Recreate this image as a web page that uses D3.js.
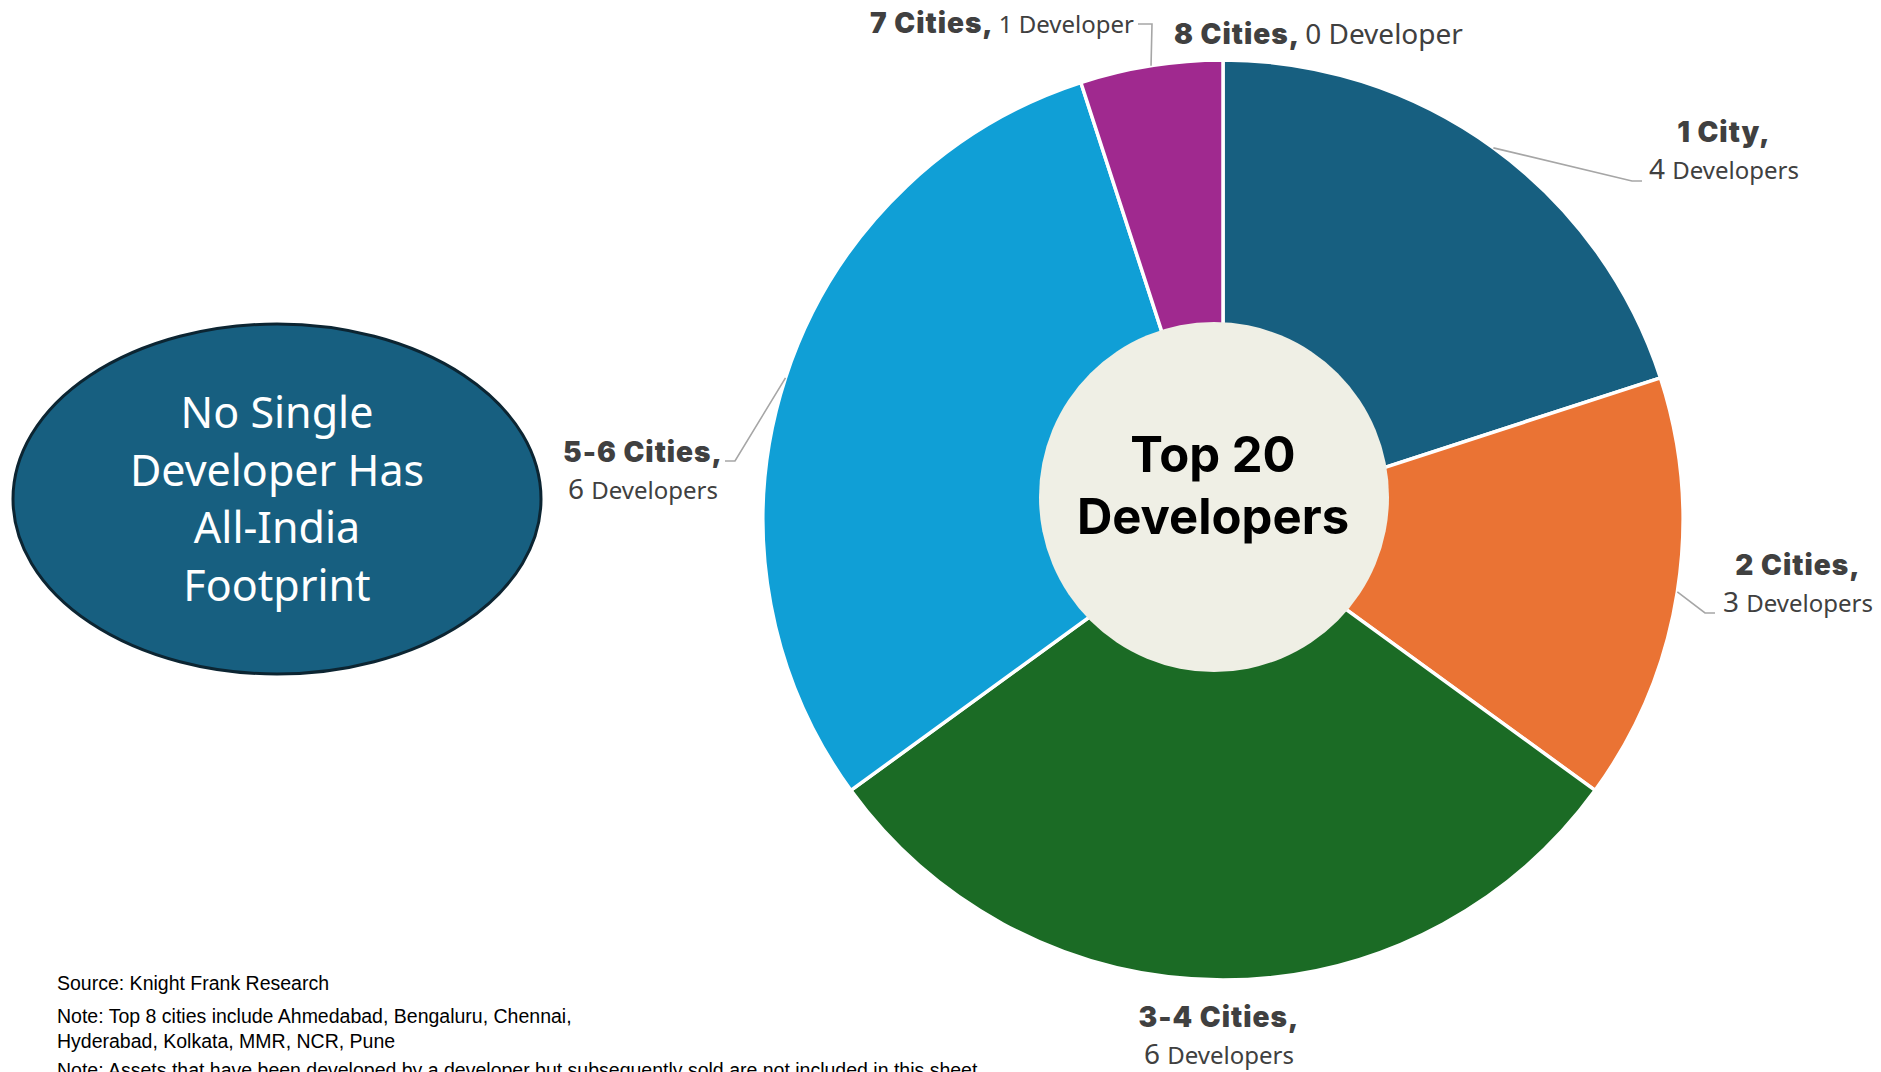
<!DOCTYPE html>
<html>
<head>
<meta charset="utf-8">
<script src="https://cdn.jsdelivr.net/npm/d3@7"></script>
<style>
  html, body { margin: 0; padding: 0; background: #ffffff; }
  svg { display: block; }
</style>
</head>
<body>
<svg id="chart" width="1881" height="1072"></svg>
<script>
// Footprint of the top 20 developers: how many of the top 8 cities each one is present in
const categories = ["1 City,", "2 Cities,", "3-4 Cities,", "5-6 Cities,", "7 Cities,", "8 Cities,"];
const developers = [4, 3, 6, 6, 1, 0];
const unitLabels = ["Developers", "Developers", "Developers", "Developers", "Developer", "Developer"];
const sliceColors = ["#175f80", "#ea7334", "#1b6b25", "#109fd6", "#a0298f", "#6b6b6b"];

const centerTitle = ["Top 20", "Developers"];
const calloutLines = ["No Single", "Developer Has", "All-India", "Footprint"];
const footnotes = [
  "Source: Knight Frank Research",
  "Note: Top 8 cities include Ahmedabad, Bengaluru, Chennai,",
  "Hyderabad, Kolkata, MMR, NCR, Pune",
  "Note: Assets that have been developed by a developer but subsequently sold are not included in this sheet"
];

const svg = d3.select("#chart");

// ---- pie ----
const cx = 1223, cy = 520, R = 460;
const pie = d3.pie().sort(null).value(d => d.v).startAngle(0).endAngle(2 * Math.PI);
const rows = categories.map((c, i) => ({ c, v: developers[i], u: unitLabels[i], col: sliceColors[i], i }));
const arcs = pie(rows);
const arc = d3.arc().innerRadius(0).outerRadius(R);

const g = svg.append("g").attr("transform", `translate(${cx},${cy})`);
g.selectAll("path.slice")
  .data(arcs.filter(a => a.data.v > 0))
  .join("path")
  .attr("class", "slice")
  .attr("d", arc)
  .attr("fill", d => d.data.col)
  .attr("stroke", "#ffffff")
  .attr("stroke-width", 3.5)
  .attr("stroke-linejoin", "round");

// centre disc, slightly offset up-left from the pie centre
svg.append("circle")
  .attr("cx", 1214).attr("cy", 497).attr("r", 175)
  .attr("fill", "#efefe5");

svg.append("text")
  .attr("x", 1213).attr("y", 472)
  .attr("text-anchor", "middle")
  .attr("font-family", "Inter, 'Noto Sans', sans-serif")
  .attr("font-weight", 700)
  .attr("font-size", 49)
  .attr("fill", "#000000")
  .selectAll("tspan")
  .data(centerTitle)
  .join("tspan")
  .attr("x", 1213)
  .attr("dy", (d, i) => i === 0 ? 0 : 62)
  .text(d => d);

// ---- callouts: leader elbow and label placement per slice ----
const layout = [
  { elbow: [1632, 181], end: [1642, 181], x: 1724, y: 142, anchor: "middle", twoLine: true },
  { elbow: [1705, 613], end: [1715, 613], x: 1798, y: 575, anchor: "middle", twoLine: true },
  { elbow: null, end: null, x: 1219, y: 1027, anchor: "middle", twoLine: true },
  { elbow: [735, 461], end: [725, 461], x: 643, y: 462, anchor: "middle", twoLine: true },
  { elbow: [1152, 24], end: [1138, 24], x: 1134, y: 33, anchor: "end", twoLine: false },
  { elbow: null, end: null, x: 1174, y: 44, anchor: "start", twoLine: false }
];

const boldFont = "Inter, Roboto, sans-serif";
const regFont = "'Noto Sans', 'Open Sans', sans-serif";
const labelCol = "#404040";

arcs.forEach((a, i) => {
  const L = layout[i];
  const mid = (a.startAngle + a.endAngle) / 2;
  if (L.elbow) {
    const sx = cx + R * Math.sin(mid), sy = cy - R * Math.cos(mid);
    svg.append("path")
      .attr("d", d3.line()([[sx, sy], L.elbow, L.end]))
      .attr("fill", "none")
      .attr("stroke", "#a6a6a6")
      .attr("stroke-width", 1.6);
  }
  const d = a.data;
  if (L.twoLine) {
    svg.append("text")
      .attr("x", L.x).attr("y", L.y)
      .attr("text-anchor", L.anchor)
      .attr("font-family", boldFont).attr("font-weight", 900)
      .attr("font-size", 28).attr("letter-spacing", 1)
      .attr("fill", labelCol)
      .text(d.c);
    const t = svg.append("text")
      .attr("x", L.x).attr("y", L.y + 37)
      .attr("text-anchor", L.anchor)
      .attr("font-family", regFont).attr("fill", labelCol);
    t.append("tspan").attr("font-size", 28).text(d.v + " ");
    t.append("tspan").attr("font-size", 24).text(d.u);
  } else {
    const t = svg.append("text")
      .attr("x", L.x).attr("y", L.y)
      .attr("text-anchor", L.anchor)
      .attr("fill", labelCol);
    t.append("tspan").attr("font-family", boldFont).attr("font-weight", 900)
      .attr("font-size", 28).attr("letter-spacing", 1).text(d.c + " ");
    t.append("tspan").attr("font-family", regFont)
      .attr("font-size", i === 5 ? 28 : 24).text(d.v + " " + d.u);
  }
});

// ---- callout ellipse ----
svg.append("ellipse")
  .attr("cx", 277).attr("cy", 499).attr("rx", 264).attr("ry", 175)
  .attr("fill", "#175f80")
  .attr("stroke", "#0c2532")
  .attr("stroke-width", 3);

svg.append("text")
  .attr("text-anchor", "middle")
  .attr("font-family", "'Noto Sans', Lato, sans-serif")
  .attr("font-size", 43)
  .attr("fill", "#ffffff")
  .selectAll("tspan")
  .data(calloutLines)
  .join("tspan")
  .attr("x", 277)
  .attr("y", (d, i) => 428 + i * 57.5)
  .text(d => d);

// ---- footnotes ----
const fy = [990, 1023, 1048, 1077];
svg.append("g")
  .attr("font-family", "'Liberation Sans Narrow', 'Liberation Sans', sans-serif")
  .attr("font-size", 19.5)
  .attr("fill", "#000000")
  .selectAll("text")
  .data(footnotes)
  .join("text")
  .attr("x", 57)
  .attr("y", (d, i) => fy[i])
  .text(d => d);
</script>
</body>
</html>
